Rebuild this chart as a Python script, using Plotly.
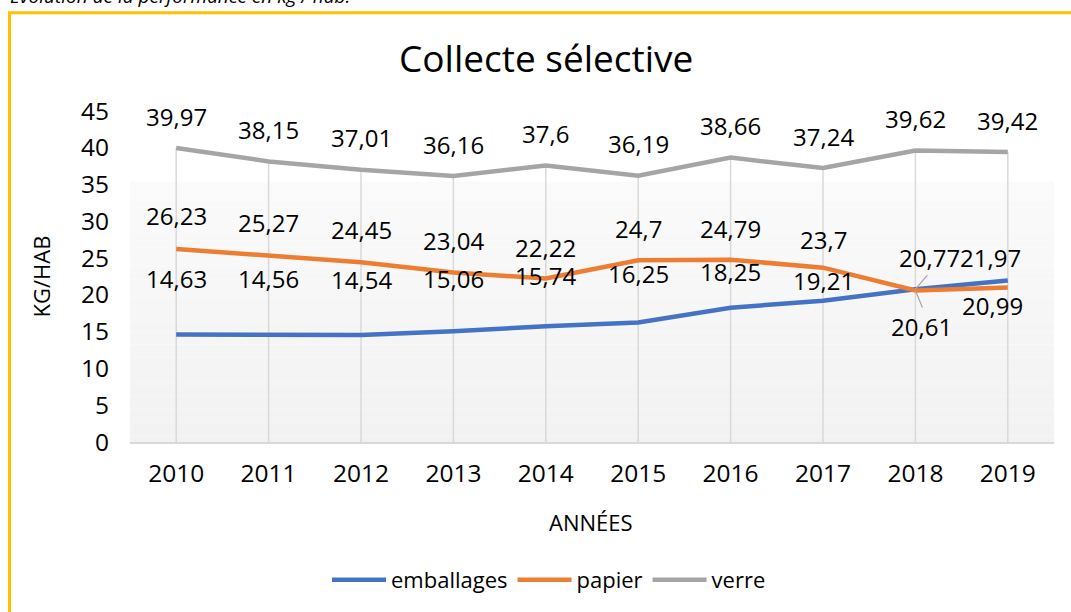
import plotly.graph_objects as go

# ---------------- data ----------------
years = ["2010", "2011", "2012", "2013", "2014", "2015", "2016", "2017", "2018", "2019"]
emballages = [14.63, 14.56, 14.54, 15.06, 15.74, 16.25, 18.25, 19.21, 20.77, 21.97]
papier = [26.23, 25.27, 24.45, 23.04, 22.22, 24.70, 24.79, 23.70, 20.61, 20.99]
verre = [39.97, 38.15, 37.01, 36.16, 37.60, 36.19, 38.66, 37.24, 39.62, 39.42]
y_ticks = [0, 5, 10, 15, 20, 25, 30, 35, 40, 45]

# ---------------- style / layout ----------------
W, H = 1071, 612
# plot area in window pixels
L, R, T, B = 130, 1054, 111, 443
FONT = "Open Sans"
C_EMB, C_PAP, C_VER = "#4472C4", "#ED7D31", "#A5A5A5"
C_DROP = "#D9D9D9"

# label pixel offsets (style)
emb_dx = [0, 0, 0, 0, 0, 0, 0, 0, 14, -17]
emb_dy = [56, 56, 56, 53, 51, 49, 36, 20, 32, 23]
pap_dx = [0, 0, 0, 0, 0, 0, 0, 0, 6, -15]
pap_dy = [34, 34, 33, 32, 31, 32, 31, 28, -36, -18]
ver_dx = [0] * 10
ver_dy = [32] * 10


def px(x):
    """window pixel x -> paper fraction"""
    return (x - L) / (R - L)


def py(y):
    """window pixel y -> paper fraction"""
    return (B - y) / (B - T)


def fmt(v):
    return f"{v:g}".replace(".", ",")


xs = list(range(len(years)))
fig = go.Figure()

# drop lines (from axis up to highest series value)
dx, dy = [], []
for i in xs:
    dx += [i, i, None]
    dy += [0, max(emballages[i], papier[i], verre[i]), None]
fig.add_trace(go.Scatter(x=dx, y=dy, mode="lines", line=dict(color=C_DROP, width=1.5),
                         hoverinfo="skip", showlegend=False))

for name, vals, col in [("emballages", emballages, C_EMB), ("papier", papier, C_PAP), ("verre", verre, C_VER)]:
    fig.add_trace(go.Scatter(x=xs, y=vals, mode="lines", name=name,
                             line=dict(color=col, width=4.5)))

annotations = []
for vals, ddx, ddy in [(emballages, emb_dx, emb_dy), (papier, pap_dx, pap_dy), (verre, ver_dx, ver_dy)]:
    for i, v in enumerate(vals):
        annotations.append(dict(x=i, y=v, xref="x", yref="y", text=fmt(v), showarrow=False,
                                xanchor="center", yanchor="middle",
                                xshift=ddx[i], yshift=ddy[i],
                                font=dict(family=FONT, size=24, color="#000000")))

# titles
annotations.append(dict(x=px(546), y=py(57), xref="paper", yref="paper", text="Collecte sélective",
                        xanchor="center", yanchor="middle",
                        showarrow=False, font=dict(family=FONT, size=37, color="#000000")))
annotations.append(dict(x=px(40), y=py(277), xref="paper", yref="paper", text="KG/HAB", textangle=-90,
                        xanchor="center", yanchor="middle",
                        showarrow=False, font=dict(family=FONT, size=22, color="#000000")))
annotations.append(dict(x=px(591), y=py(523), xref="paper", yref="paper", text="ANNÉES",
                        xanchor="center", yanchor="middle",
                        showarrow=False, font=dict(family=FONT, size=22, color="#000000")))
annotations.append(dict(x=px(8), y=py(-4), xref="paper", yref="paper", xanchor="left", yanchor="middle",
                        text="<i>Évolution de la performance en kg / hab.</i>", showarrow=False,
                        font=dict(family=FONT, size=19, color="#000000")))

shapes = []
# gradient plot background
N = 40
g_top, g_bot = 182, B
for k in range(N):
    y0 = g_top + (g_bot - g_top) * k / N
    y1 = g_top + (g_bot - g_top) * (k + 1) / N
    c = round(250 - 8 * k / (N - 1))
    shapes.append(dict(type="rect", xref="paper", yref="paper", x0=0, x1=1, y0=py(y1), y1=py(y0),
                       fillcolor=f"rgb({c},{c},{c})", line=dict(width=0), layer="below"))
# leader lines at 2018
shapes.append(dict(type="line", xref="x", yref="y", xsizemode="pixel", ysizemode="pixel",
                   xanchor=8, yanchor=emballages[8], x0=0, y0=0, x1=12, y1=14,
                   line=dict(color="#A6A6A6", width=1.2)))
shapes.append(dict(type="line", xref="x", yref="y", xsizemode="pixel", ysizemode="pixel",
                   xanchor=8, yanchor=papier[8], x0=0, y0=0, x1=7, y1=-17,
                   line=dict(color="#A6A6A6", width=1.2)))
# chart border (yellow)
shapes.append(dict(type="rect", xref="paper", yref="paper", x0=px(9.5), x1=px(1200), y0=py(700), y1=py(12.5),
                   line=dict(color="#FFC000", width=3), layer="above"))

fig.update_layout(
    width=W, height=H,
    margin=dict(l=L, r=W - R, t=T, b=H - B),
    paper_bgcolor="white", plot_bgcolor="white",
    font=dict(family=FONT, color="#000000"),
    showlegend=True,
    legend=dict(orientation="h", x=px(549), xanchor="center", y=py(580), yanchor="middle",
                itemwidth=54,
                font=dict(family=FONT, size=22, color="#000000"), bgcolor="rgba(0,0,0,0)"),
    annotations=annotations,
    shapes=shapes,
    xaxis=dict(range=[-0.5, len(years) - 0.5], tickvals=xs, ticktext=years, showgrid=False,
               zeroline=False, showline=True, linecolor=C_DROP, linewidth=1.5,
               ticks="outside", ticklen=9, tickcolor="rgba(0,0,0,0)",
               tickfont=dict(family=FONT, size=24.5, color="#000000")),
    yaxis=dict(range=[0, 45], tickvals=y_ticks, showgrid=False, zeroline=False, showline=False,
               ticks="outside", ticklen=15, tickcolor="rgba(0,0,0,0)",
               tickfont=dict(family=FONT, size=24.5, color="#000000")),
)

fig.write_html("out.html", config={"displayModeBar": False},
               post_script="document.body.style.margin='0';document.body.style.overflow='hidden';")
